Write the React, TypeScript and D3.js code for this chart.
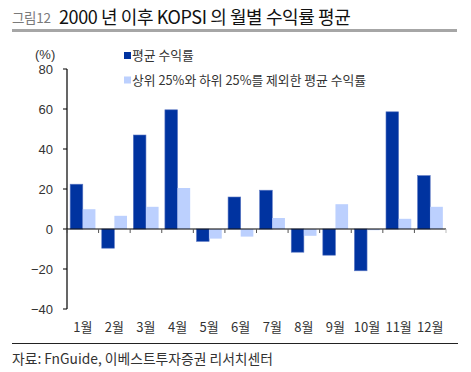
import React from "react";
import * as d3 from "d3";

const months = ["1월", "2월", "3월", "4월", "5월", "6월", "7월", "8월", "9월", "10월", "11월", "12월"];
const avgReturn = [22.4, -9.6, 47.0, 59.6, -6.2, 16.0, 19.4, -11.6, -13.1, -20.9, 58.6, 26.7];
const trimmedReturn = [9.9, 6.6, 11.1, 20.5, -4.8, -3.8, 5.5, -3.4, 12.4, -0.6, 5.1, 11.1];
const yTicks = [80, 60, 40, 20, 0, -20, -40];
const seriesNames = ["평균 수익률", "상위 25%와 하위 25%를 제외한 평균 수익률"];
const colors = ["#0033a0", "#bcd0fe"];

const W = 471;
const H = 372;
const left = 67;
const right = 446;
const top = 69;
const bottom = 309;

export default function App() {
  const x = d3.scaleBand<string>().domain(months).range([left, right]).paddingInner(0.2).paddingOuter(0.1);
  const step = x.step();
  const y = d3.scaleLinear().domain([-40, 80]).range([bottom, top]);
  const bw = x.bandwidth() / 2;
  const kr = "'Noto Sans CJK KR', 'Noto Sans', sans-serif";
  const num = "'Liberation Sans', Arial, 'Noto Sans CJK KR', sans-serif";
  const txt = "#333";

  return (
    <svg width={W} height={H} style={{ position: "absolute", left: 0, top: 0, background: "#fff" }}>
      <text x={12} y={23} fontFamily={kr} fontSize={13.5} fill="#7a7a7a" letterSpacing={-0.3}>그림12</text>
      <text x={59} y={24} fontFamily={kr} fontSize={18} fill="#111" letterSpacing={-0.4}>2000 년 이후 KOPSI 의 월별 수익률 평균</text>
      <rect x={12} y={29} width={445} height={3} fill="#a6a6a6" />

      <text x={35} y={59} fontFamily={num} fontSize={13} fill={txt}>(%)</text>

      {seriesNames.map((s, i) => (
        <g key={s}>
          <rect x={124} y={52 + i * 24.5} width={7} height={7} fill={colors[i]} />
          <text x={132} y={60 + i * 24.5} fontFamily={kr} fontSize={12.8} fill={txt}>{s}</text>
        </g>
      ))}

      {months.map((m, i) => {
        const x0 = x(m)!;
        const a = avgReturn[i];
        const b = trimmedReturn[i];
        return (
          <g key={m}>
            <rect x={x0} y={Math.min(y(a), y(0))} width={bw} height={Math.abs(y(a) - y(0))} fill={colors[0]} stroke="#5c78c4" strokeWidth={0.6} />
            <rect x={x0 + bw} y={Math.min(y(b), y(0))} width={bw} height={Math.abs(y(b) - y(0))} fill={colors[1]} />
          </g>
        );
      })}

      <line x1={left} x2={left} y1={top} y2={bottom} stroke="#000" strokeWidth={1.2} />
      {yTicks.map((t) => (
        <g key={t}>
          <line x1={left - 4} x2={left} y1={y(t)} y2={y(t)} stroke="#000" strokeWidth={1} />
          <text x={53} y={y(t) + 4.5} textAnchor="end" fontFamily={num} fontSize={13} fill={txt}>
            {t < 0 ? "\u2212" + Math.abs(t) : t}
          </text>
        </g>
      ))}

      <line x1={left} x2={right} y1={y(0)} y2={y(0)} stroke="#000" strokeWidth={1.2} />
      {d3.range(13).map((k) => (
        <line key={k} x1={left + k * step} x2={left + k * step} y1={y(0)} y2={y(0) + 4} stroke={k === 12 ? "#bbb" : "#555"} strokeWidth={1} />
      ))}
      {months.map((m) => (
        <text key={m} x={x(m)! + x.bandwidth() / 2} y={332} textAnchor="middle" fontFamily={kr} fontSize={13} fill={txt}>{m}</text>
      ))}

      <line x1={12} x2={458} y1={343.5} y2={343.5} stroke="#222" strokeWidth={1} />
      <text x={12} y={364} fontFamily={kr} fontSize={13.8} fill={txt}>자료: FnGuide, 이베스트투자증권 리서치센터</text>
    </svg>
  );
}
